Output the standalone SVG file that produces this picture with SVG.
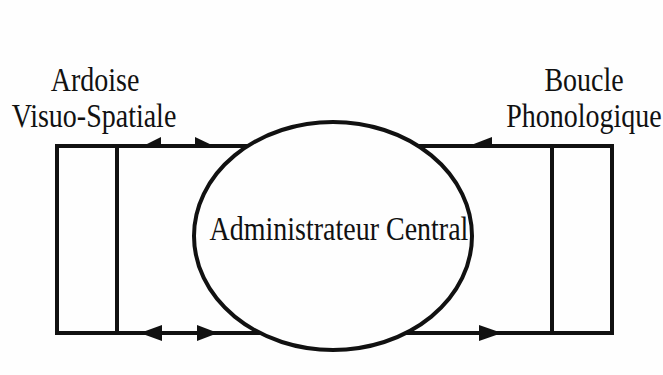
<svg xmlns="http://www.w3.org/2000/svg" width="663" height="375" viewBox="0 0 663 375">
<style>
.ln{stroke:#111;stroke-width:4;fill:none;stroke-linecap:square}
.ah{fill:#111;stroke:none}
.lbl{font-family:"Liberation Serif","Times New Roman",serif;font-size:28px;fill:#111;text-anchor:middle}
</style>
<rect width="663" height="375" fill="#fefefe"/>
<g id="connectors">
<line class="ln" x1="57" y1="146" x2="612" y2="146"/>
<line class="ln" x1="57" y1="333" x2="612" y2="333"/>
<path class="ah" d="M141,147 L161,137 L161,147 Z"/>
<path class="ah" d="M216,147 L195,137 L195,147 Z"/>
<path class="ah" d="M466,147 L492,137 L492,147 Z"/>
<path class="ah" d="M140,333 L162,325 L162,341 Z"/>
<path class="ah" d="M218,333 L197,325 L197,341 Z"/>
<path class="ah" d="M502,333 L479,325 L479,341 Z"/>
</g>
<g id="ardoise">
<line class="ln" x1="57" y1="146" x2="57" y2="333"/>
<line class="ln" x1="117" y1="146" x2="117" y2="333"/>
<text class="lbl" transform="translate(95,91) scale(1,1.2)">Ardoise</text>
<text class="lbl" transform="translate(94,127) scale(1,1.2)">Visuo-Spatiale</text>
</g>
<g id="boucle">
<line class="ln" x1="552" y1="146" x2="552" y2="333"/>
<line class="ln" x1="612" y1="146" x2="612" y2="333"/>
<text class="lbl" transform="translate(584,91) scale(1,1.2)">Boucle</text>
<text class="lbl" transform="translate(584,127) scale(1,1.2)">Phonologique</text>
</g>
<g id="administrateur">
<ellipse cx="333" cy="236" rx="139" ry="114" fill="#fefefe" stroke="#111" stroke-width="4"/>
<text class="lbl" transform="translate(339,240) scale(1,1.2)">Administrateur Central</text>
</g>
</svg>
